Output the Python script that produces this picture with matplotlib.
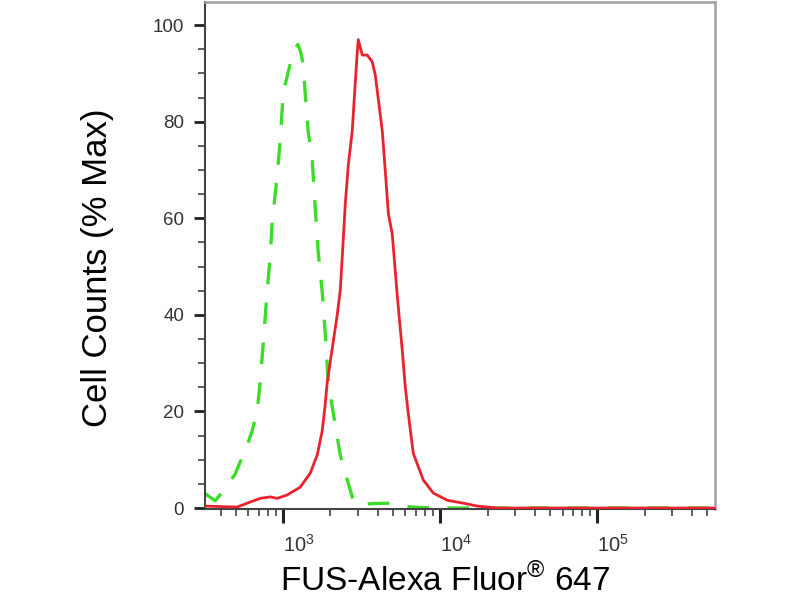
import numpy as np
import matplotlib
matplotlib.use("Agg")
from matplotlib import pyplot as plt
from matplotlib.ticker import LogLocator, MultipleLocator

plt.rcParams['font.family'] = ['Liberation Sans', 'DejaVu Sans']
plt.rcParams['mathtext.fontset'] = 'custom'
plt.rcParams['mathtext.rm'] = 'Liberation Sans'

# isotype control (green, dashed)
iso_x = [318, 369, 428, 494, 548, 598, 635, 682, 714, 746, 791, 826, 851, 916, 957,
         1000, 1109, 1140, 1240, 1290, 1340, 1380, 1442, 1531, 1600, 1671, 1770, 1854,
         1936, 2051, 2307, 2559, 2793, 3090, 3581, 4592, 6166, 7464, 11500, 560000]
iso_y = [3, 1.5, 4, 7, 10.5, 13.5, 16, 20, 26, 34, 45, 52, 59, 69, 76,
         86, 92, 94, 96, 94.5, 92, 86, 78, 72, 62, 53, 45, 36,
         26, 21, 11, 5.8, 1.6, 0.5, 0.9, 1, 0.3, 0.1, 0, 0]

# FUS stained sample (red)
fus_x = [318, 509, 590, 714, 826, 916, 1060, 1282, 1486, 1648, 1772, 1853, 1906, 2051,
         2208, 2307, 2377, 2485, 2596, 2750, 2875, 2961, 3006, 3186, 3428, 3689, 3855,
         4030, 4275, 4467, 4670, 4946, 5321, 5728, 5986, 6254, 6731, 7796, 9024, 11080,
         14000, 17200, 23070, 560000]
fus_y = [0.4, 0.2, 1, 2, 2.3, 2, 2.7, 4.3, 7.2, 11, 16, 21.6, 26, 33,
         40, 45, 52, 63, 71, 78, 88, 94.4, 97, 93.8, 93.8, 92.4, 89.7,
         84.7, 78, 69.7, 61, 56.7, 44, 32.6, 25, 19.6, 11.3, 5.8, 3.1, 1.6,
         1, 0.4, 0, 0]

y_ticks = [0, 20, 40, 60, 80, 100]

fig = plt.figure(figsize=(8, 6), dpi=100)
ax = fig.add_axes([0.25625, 0.1517, 0.6375, 0.845])

ax.plot(iso_x, iso_y, color='#3ddc2a', lw=2.4, linestyle=(0, (6.5, 5.5)), zorder=2)
ax.plot(fus_x, fus_y, color='#e8232d', lw=2.0, zorder=3)

ax.set_xscale('log')
ax.set_xlim(318, 5.6e5)
ax.set_ylim(-0.2, 104.8)

ax.set_yticks(y_ticks)
ax.yaxis.set_minor_locator(MultipleLocator(5))
ax.xaxis.set_major_locator(LogLocator(base=10))
ax.xaxis.set_minor_locator(LogLocator(base=10, subs=np.arange(2, 10)))

ax.tick_params(which='major', direction='out', length=8, width=2, color='#222',
               labelsize=13.5, labelcolor='#333')
ax.tick_params(which='minor', direction='out', length=5, width=1.1, color='#333')
ax.tick_params(axis='y', which='major', pad=7)
ax.tick_params(axis='x', which='major', length=10, width=2.2, pad=8, labelsize=14.5)
for lbl in ax.get_xticklabels():
    lbl.set_horizontalalignment('left')

for side in ['top', 'right']:
    ax.spines[side].set_color('#a0a0a0')
    ax.spines[side].set_linewidth(1.8)
for side in ['left', 'bottom']:
    ax.spines[side].set_color('#444')
    ax.spines[side].set_linewidth(1.5)

fig.text(98 / 800, 1 - 268 / 600, 'Cell Counts (% Max)', rotation=90,
         ha='center', va='center', fontsize=25, color='black')
fig.text(445 / 800, 1 - 581 / 600, 'FUS-Alexa Fluor$^{\\mathrm{\u00ae}}$ 647',
         ha='center', va='center', fontsize=24, color='black')

fig.savefig('out.png', dpi=100)
